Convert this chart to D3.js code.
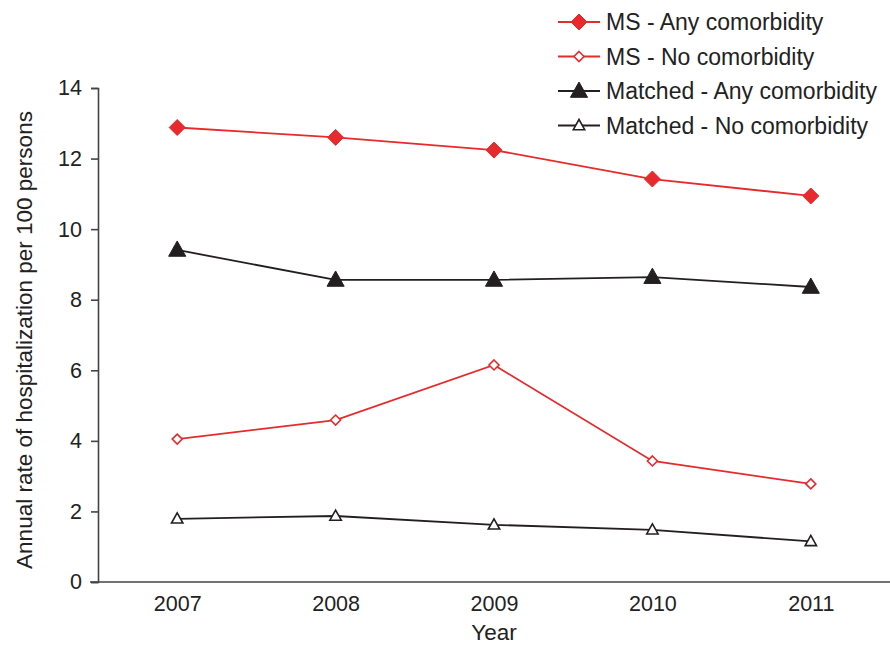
<!DOCTYPE html>
<html>
<head>
<meta charset="utf-8">
<script src="https://cdn.jsdelivr.net/npm/d3@7"></script>
<style>
  html, body { margin: 0; padding: 0; background: #fff; }
  svg { display: block; font-family: "Liberation Sans", Arial, Helvetica, sans-serif; }
</style>
</head>
<body>
<svg id="chart" width="890" height="646"></svg>
<script>
// Hospitalization rates per 100 persons, by year
const years = ["2007", "2008", "2009", "2010", "2011"];
const msAny = [12.88, 12.60, 12.24, 11.42, 10.94];
const msNone = [4.05, 4.59, 6.15, 3.43, 2.78];
const matchedAny = [9.41, 8.56, 8.56, 8.64, 8.36];
const matchedNone = [1.79, 1.87, 1.62, 1.48, 1.15];
const yTicks = [0, 2, 4, 6, 8, 10, 12, 14];
const seriesNames = ["MS - Any comorbidity", "MS - No comorbidity", "Matched - Any comorbidity", "Matched - No comorbidity"];

const RED = "#e62a2d";
const BLACK = "#231f20";

const series = [
  { name: seriesNames[0], values: msAny, color: RED, shape: "diamond", filled: true },
  { name: seriesNames[1], values: msNone, color: RED, shape: "diamond", filled: false },
  { name: seriesNames[2], values: matchedAny, color: BLACK, shape: "triangle", filled: true },
  { name: seriesNames[3], values: matchedNone, color: BLACK, shape: "triangle", filled: false }
];

const svg = d3.select("#chart");
const plotLeft = 98, plotRight = 890, plotTop = 88, plotBottom = 582;

const x = d3.scalePoint().domain(years).range([plotLeft, plotRight]).padding(0.5);
const y = d3.scaleLinear().domain([0, 14]).range([plotBottom, plotTop]);

// y axis
const yAxis = svg.append("g")
  .attr("transform", `translate(${plotLeft},0)`)
  .call(d3.axisLeft(y).tickValues(yTicks).tickSize(7).tickPadding(9).tickFormat(d3.format("d")));
yAxis.select(".domain").attr("stroke", "#444").attr("stroke-width", 1.6);
yAxis.selectAll(".tick line").attr("stroke", "#444").attr("stroke-width", 1.6);
yAxis.selectAll(".tick text").attr("font-size", 21.5).attr("fill", "#222")
  .attr("font-family", "Liberation Sans, Arial, sans-serif");

// x axis
const xAxis = svg.append("g")
  .attr("transform", `translate(0,${plotBottom})`)
  .call(d3.axisBottom(x).tickSize(0).tickPadding(14));
xAxis.select(".domain").attr("d", `M${plotLeft - 8},0H${plotRight}`).attr("stroke", "#444").attr("stroke-width", 1.6);
xAxis.selectAll(".tick text").attr("font-size", 21.5).attr("fill", "#222")
  .attr("font-family", "Liberation Sans, Arial, sans-serif");

// axis titles
svg.append("text")
  .attr("x", x("2009")).attr("y", 640)
  .attr("text-anchor", "middle").attr("font-size", 22.5).attr("fill", "#222")
  .text("Year");
svg.append("text")
  .attr("transform", `translate(32,${(plotTop + plotBottom) / 2 + 5}) rotate(-90)`)
  .attr("text-anchor", "middle").attr("font-size", 22.5).attr("fill", "#222")
  .text("Annual rate of hospitalization per 100 persons");

// marker shapes
function markerPath(shape, filled) {
  if (shape === "diamond") {
    const r = filled ? 8 : 5;
    return `M0,${-r}L${r},0L0,${r}L${-r},0Z`;
  }
  const s = filled ? 9 : 6;
  return `M0,${-s}L${s * 0.95},${s * 0.7}L${-s * 0.95},${s * 0.7}Z`;
}

const line = d3.line().x((d, i) => x(years[i])).y(d => y(d));

series.forEach(s => {
  svg.append("path")
    .datum(s.values)
    .attr("d", line)
    .attr("fill", "none")
    .attr("stroke", s.color)
    .attr("stroke-width", 1.8);
  svg.selectAll(null)
    .data(s.values)
    .enter().append("path")
    .attr("transform", (d, i) => `translate(${x(years[i])},${y(d)})`)
    .attr("d", markerPath(s.shape, s.filled))
    .attr("fill", s.filled ? s.color : "#fff")
    .attr("stroke", s.color)
    .attr("stroke-width", s.filled ? 1 : 1.6);
});

// legend
const legend = svg.append("g").attr("transform", "translate(558,22)");
series.forEach((s, i) => {
  const g = legend.append("g").attr("transform", `translate(0,${i * 34.5})`);
  g.append("line").attr("x1", 0).attr("x2", 42).attr("y1", 0).attr("y2", 0)
    .attr("stroke", s.color).attr("stroke-width", 1.8);
  g.append("path").attr("transform", "translate(21,0)")
    .attr("d", markerPath(s.shape, s.filled))
    .attr("fill", s.filled ? s.color : "#fff")
    .attr("stroke", s.color)
    .attr("stroke-width", s.filled ? 1 : 1.6);
  g.append("text").attr("x", 48).attr("y", 8)
    .attr("font-size", 23).attr("fill", "#222")
    .text(s.name);
});
</script>
</body>
</html>
